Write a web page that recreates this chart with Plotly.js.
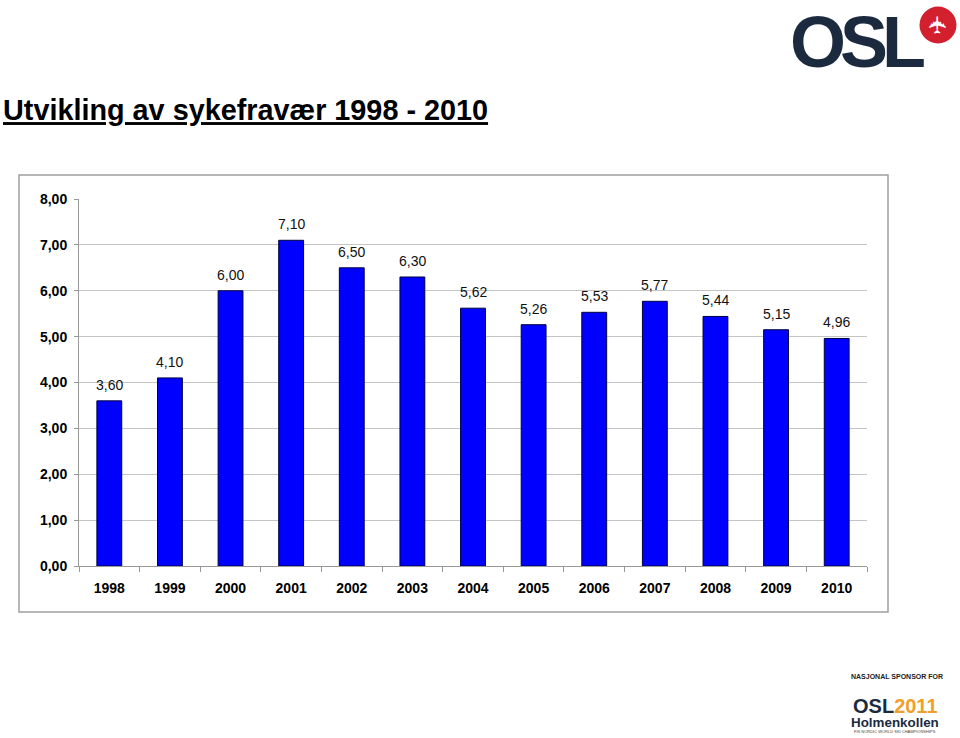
<!DOCTYPE html>
<html>
<head>
<meta charset="utf-8">
<script src="https://cdn.plot.ly/plotly-3.0.1.min.js"></script>
<style>html,body{margin:0;padding:0;background:#fff;}#chart{width:960px;height:738px;}</style>
</head>
<body>
<div id="chart"></div>
<script>
const years = ['1998','1999','2000','2001','2002','2003','2004','2005','2006','2007','2008','2009','2010'];
const values = [3.60, 4.10, 6.00, 7.10, 6.50, 6.30, 5.62, 5.26, 5.53, 5.77, 5.44, 5.15, 4.96];
const titleText = 'Utvikling av sykefravær 1998 - 2010';

const W = 960, H = 738;
const M = {l: 79, r: 93, t: 199, b: 172};
const PW = W - M.l - M.r, PH = H - M.t - M.b;
const px = x => (x - M.l) / PW;
const py = y => (H - M.b - y) / PH;

const fmt = v => v.toFixed(2).replace('.', ',');

const trace = {
  type: 'bar',
  x: years,
  y: values,
  width: 0.41,
  marker: {color: '#0000ff', line: {color: '#000040', width: 1}},
  hoverinfo: 'skip'
};

const labelAnns = years.map((yr, i) => ({
  x: i, y: values[i], xref: 'x', yref: 'y',
  text: fmt(values[i]), showarrow: false,
  yanchor: 'middle', yshift: 16,
  font: {family: 'Liberation Sans, Arial, sans-serif', size: 14, color: '#111'}
}));

const decoAnns = [
  // OSL logo
  {xref: 'paper', yref: 'paper', x: px(857), y: py(42), xanchor: 'center', yanchor: 'middle', showarrow: false,
   text: '<span style="letter-spacing:-6px">OSL</span>',
   font: {family: 'Liberation Sans, Arial, sans-serif', size: 72, weight: 'bold', color: '#1b2a3e'}},
  {xref: 'paper', yref: 'paper', x: px(938), y: py(25), xanchor: 'center', yanchor: 'middle', showarrow: false,
   text: '✈', textangle: -90,
   font: {family: 'DejaVu Sans, sans-serif', size: 24, color: '#ffffff'}},
  // Sponsor logo
  {xref: 'paper', yref: 'paper', x: px(897), y: py(676), xanchor: 'center', yanchor: 'middle', showarrow: false,
   text: '<b>NASJONAL SPONSOR FOR</b>',
   font: {family: 'Liberation Sans, Arial, sans-serif', size: 7, color: '#222'}},
  {xref: 'paper', yref: 'paper', x: px(895), y: py(706), xanchor: 'center', yanchor: 'middle', showarrow: false,
   text: '<b><span style="color:#1b2a3e">OSL</span><span style="color:#f0a02a">2011</span></b>',
   font: {family: 'Liberation Sans, Arial, sans-serif', size: 20, color: '#1b2a3e'}},
  {xref: 'paper', yref: 'paper', x: px(895), y: py(722), xanchor: 'center', yanchor: 'middle', showarrow: false,
   text: '<b>Holmenkollen</b>',
   font: {family: 'Liberation Sans, Arial, sans-serif', size: 13.4, color: '#1b2a3e'}},
  {xref: 'paper', yref: 'paper', x: px(895), y: py(731), xanchor: 'center', yanchor: 'middle', showarrow: false,
   text: 'FIS NORDIC WORLD SKI CHAMPIONSHIPS',
   font: {family: 'Liberation Sans, Arial, sans-serif', size: 4, color: '#444'}}
];

const layout = {
  width: W, height: H,
  margin: M,
  paper_bgcolor: '#ffffff', plot_bgcolor: '#ffffff',
  separators: ',.',
  showlegend: false,
  title: {
    text: titleText,
    xref: 'container', yref: 'container',
    x: 3 / W, xanchor: 'left',
    y: 1 - 110 / H, yanchor: 'middle',
    font: {family: 'Liberation Sans, Arial, sans-serif', size: 28.8, weight: 'bold', color: '#000', lineposition: 'under'}
  },
  xaxis: {
    type: 'category',
    categoryorder: 'array', categoryarray: years,
    range: [-0.5, years.length - 0.5],
    tickson: 'boundaries',
    ticks: 'outside', ticklen: 5, tickcolor: '#999', tickwidth: 1,
    showline: true, linecolor: '#999', linewidth: 1,
    showgrid: false, zeroline: false,
    ticklabelstandoff: 9,
    tickfont: {family: 'Liberation Sans, Arial, sans-serif', size: 14, weight: 'bold', color: '#000'}
  },
  yaxis: {
    range: [0, 8], dtick: 1, tick0: 0,
    tickformat: '.2f',
    ticks: 'outside', ticklen: 4, tickcolor: '#999', tickwidth: 1,
    showline: true, linecolor: '#999', linewidth: 1,
    showgrid: true, gridcolor: '#c4c4c4', gridwidth: 1,
    zeroline: false,
    ticklabelstandoff: 4,
    tickfont: {family: 'Liberation Sans, Arial, sans-serif', size: 14, weight: 'bold', color: '#000'}
  },
  shapes: [
    {type: 'rect', xref: 'paper', yref: 'paper', x0: px(19), x1: px(888), y0: py(612), y1: py(175),
     line: {color: '#a0a0a0', width: 1.5}, fillcolor: 'rgba(0,0,0,0)', layer: 'below'},
    {type: 'circle', xref: 'paper', yref: 'paper', x0: px(919.5), x1: px(956.5), y0: py(43.5), y1: py(6.5),
     line: {width: 0}, fillcolor: '#d3202f'}
  ],
  annotations: labelAnns.concat(decoAnns)
};

Plotly.newPlot('chart', [trace], layout, {displayModeBar: false, staticPlot: true});
</script>
</body>
</html>
